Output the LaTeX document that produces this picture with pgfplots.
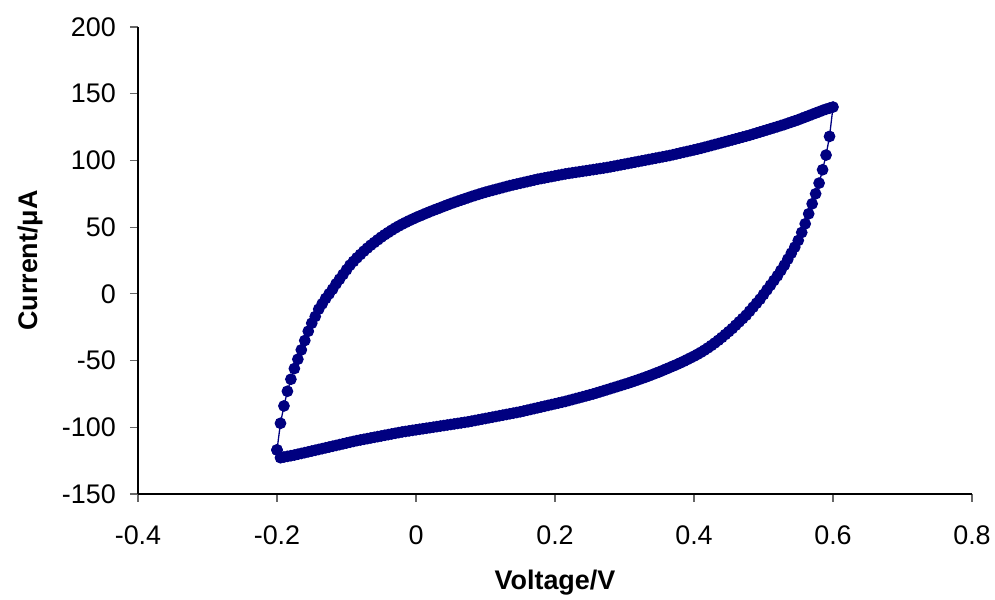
\documentclass[border=0pt]{standalone}
\usepackage{pgfplots}
\pgfplotsset{compat=1.18}
\usepackage{fontspec}
\setmainfont{Liberation Sans}
\definecolor{navy}{RGB}{0,0,128}
\begin{document}
\begin{tikzpicture}[x=1bp,y=1bp]
\begin{axis}[
  at={(0,0)}, anchor=south west,
  scale only axis, width=834bp, height=467bp,
  xmin=-0.4, xmax=0.8, ymin=-150, ymax=200,
  xtick={-0.4,-0.2,0,0.2,0.4,0.6,0.8},
  ytick={-150,-100,-50,0,50,100,150,200},
  xticklabels={-0.4,-0.2,0,0.2,0.4,0.6,0.8},
  yticklabels={-150,-100,-50,0,50,100,150,200},
  axis lines*=left,
  axis line style={black, line width=1.2bp},
  tick align=outside, tick style={black!60, line width=1.2bp},
  major tick length=8bp,
  tick label style={font=\fontsize{27}{32}\selectfont},
  yticklabel style={anchor=east, inner sep=0pt, xshift=-14bp},
  xticklabel style={anchor=north, inner sep=0pt, yshift=-24bp},
  xlabel={\textbf{Voltage/V}}, ylabel={\textbf{Current/μA}},
  label style={font=\fontsize{27}{32}\selectfont},
  xlabel style={at={(axis description cs:0.5,0)}, anchor=base, yshift=-96bp},
  ylabel style={at={(axis description cs:-0.1295,0.5)}, anchor=center},
  clip=false,
]
\addplot[navy, line width=1.3bp, mark=*, mark size=5.2bp, mark options={fill=navy, draw=navy}] coordinates {
(-0.200,-117) (-0.195,-97) (-0.190,-84) (-0.185,-73) (-0.180,-64) (-0.175,-56) (-0.170,-49) (-0.165,-42) (-0.160,-35) (-0.155,-28)
(-0.150,-22) (-0.145,-17) (-0.140,-11.5) (-0.135,-7.5) (-0.130,-3.5) (-0.125,0) (-0.120,3.5) (-0.115,7.5) (-0.110,11) (-0.105,14.5)
(-0.100,18) (-0.095,21.5) (-0.090,24.3) (-0.085,27) (-0.080,29.5) (-0.075,32) (-0.070,34.3) (-0.065,36.5) (-0.060,38.5) (-0.055,40.5)
(-0.050,42.5) (-0.045,44.3) (-0.040,46) (-0.035,47.7) (-0.030,49.3) (-0.025,50.8) (-0.020,52.2) (-0.015,53.5) (-0.010,54.8) (-0.005,56)
(0.000,57.2) (0.005,58.3) (0.010,59.4) (0.015,60.5) (0.020,61.6) (0.025,62.6) (0.030,63.6) (0.035,64.6) (0.040,65.6) (0.045,66.6)
(0.050,67.6) (0.055,68.5) (0.060,69.4) (0.065,70.3) (0.070,71.2) (0.075,72.1) (0.080,73) (0.085,73.8) (0.090,74.6) (0.095,75.4)
(0.100,76.2) (0.105,76.9) (0.110,77.6) (0.115,78.3) (0.120,79) (0.125,79.7) (0.130,80.4) (0.135,81.1) (0.140,81.7) (0.145,82.3)
(0.150,82.9) (0.155,83.5) (0.160,84.1) (0.165,84.7) (0.170,85.3) (0.175,85.9) (0.180,86.4) (0.185,86.9) (0.190,87.4) (0.195,87.9)
(0.200,88.4) (0.205,88.9) (0.210,89.4) (0.215,89.9) (0.220,90.3) (0.225,90.7) (0.230,91.1) (0.235,91.5) (0.240,91.9) (0.245,92.3)
(0.250,92.7) (0.255,93.1) (0.260,93.5) (0.265,93.9) (0.270,94.3) (0.275,94.7) (0.280,95.2) (0.285,95.7) (0.290,96.2) (0.295,96.7)
(0.300,97.2) (0.305,97.7) (0.310,98.2) (0.315,98.7) (0.320,99.2) (0.325,99.7) (0.330,100.2) (0.335,100.7) (0.340,101.2) (0.345,101.7)
(0.350,102.2) (0.355,102.7) (0.360,103.2) (0.365,103.7) (0.370,104.3) (0.375,104.9) (0.380,105.5) (0.385,106.1) (0.390,106.7) (0.395,107.3)
(0.400,107.9) (0.405,108.5) (0.410,109.1) (0.415,109.8) (0.420,110.5) (0.425,111.2) (0.430,111.9) (0.435,112.6) (0.440,113.3) (0.445,114)
(0.450,114.7) (0.455,115.4) (0.460,116.1) (0.465,116.8) (0.470,117.5) (0.475,118.2) (0.480,118.9) (0.485,119.7) (0.490,120.5) (0.495,121.3)
(0.500,122.1) (0.505,122.9) (0.510,123.7) (0.515,124.5) (0.520,125.3) (0.525,126.1) (0.530,126.9) (0.535,127.8) (0.540,128.7) (0.545,129.6)
(0.550,130.5) (0.555,131.5) (0.560,132.5) (0.565,133.5) (0.570,134.5) (0.575,135.5) (0.580,136.5) (0.585,137.5) (0.590,138.4) (0.595,139.2)
(0.600,140)
(0.595,118) (0.590,104) (0.585,93) (0.580,83) (0.575,75) (0.570,67.5) (0.565,60) (0.560,52.5) (0.555,46) (0.550,40)
(0.545,35) (0.540,30.5) (0.535,26) (0.530,21.5) (0.525,17.5) (0.520,13.5) (0.515,10) (0.510,6.5) (0.505,3) (0.500,-0.5)
(0.495,-4) (0.490,-7) (0.485,-10) (0.480,-13) (0.475,-16) (0.470,-18.5) (0.465,-21) (0.460,-23.5) (0.455,-26) (0.450,-28.3)
(0.445,-30.5) (0.440,-32.7) (0.435,-34.8) (0.430,-36.8) (0.425,-38.7) (0.420,-40.5) (0.415,-42.2) (0.410,-43.8) (0.405,-45.3) (0.400,-46.7)
(0.395,-48) (0.390,-49.3) (0.385,-50.6) (0.380,-51.8) (0.375,-53) (0.370,-54.1) (0.365,-55.2) (0.360,-56.3) (0.355,-57.4) (0.350,-58.5)
(0.345,-59.5) (0.340,-60.5) (0.335,-61.5) (0.330,-62.5) (0.325,-63.4) (0.320,-64.3) (0.315,-65.2) (0.310,-66.1) (0.305,-67) (0.300,-67.8)
(0.295,-68.6) (0.290,-69.4) (0.285,-70.2) (0.280,-71) (0.275,-71.8) (0.270,-72.6) (0.265,-73.4) (0.260,-74.2) (0.255,-75) (0.250,-75.7)
(0.245,-76.4) (0.240,-77.1) (0.235,-77.8) (0.230,-78.5) (0.225,-79.2) (0.220,-79.9) (0.215,-80.6) (0.210,-81.2) (0.205,-81.8) (0.200,-82.4)
(0.195,-83) (0.190,-83.6) (0.185,-84.2) (0.180,-84.8) (0.175,-85.4) (0.170,-86) (0.165,-86.6) (0.160,-87.2) (0.155,-87.8) (0.150,-88.4)
(0.145,-88.9) (0.140,-89.4) (0.135,-89.9) (0.130,-90.4) (0.125,-90.9) (0.120,-91.4) (0.115,-91.9) (0.110,-92.4) (0.105,-92.9) (0.100,-93.4)
(0.095,-93.9) (0.090,-94.4) (0.085,-94.9) (0.080,-95.4) (0.075,-95.9) (0.070,-96.3) (0.065,-96.7) (0.060,-97.1) (0.055,-97.5) (0.050,-97.9)
(0.045,-98.3) (0.040,-98.7) (0.035,-99.1) (0.030,-99.5) (0.025,-99.9) (0.020,-100.3) (0.015,-100.7) (0.010,-101.1) (0.005,-101.5) (0.000,-101.9)
(-0.005,-102.3) (-0.010,-102.7) (-0.015,-103.1) (-0.020,-103.5) (-0.025,-104) (-0.030,-104.5) (-0.035,-105) (-0.040,-105.5) (-0.045,-106) (-0.050,-106.5)
(-0.055,-107) (-0.060,-107.5) (-0.065,-108) (-0.070,-108.5) (-0.075,-109) (-0.080,-109.5) (-0.085,-110) (-0.090,-110.6) (-0.095,-111.2) (-0.100,-111.8)
(-0.105,-112.4) (-0.110,-113) (-0.115,-113.6) (-0.120,-114.2) (-0.125,-114.8) (-0.130,-115.4) (-0.135,-116) (-0.140,-116.6) (-0.145,-117.2) (-0.150,-117.8)
(-0.155,-118.4) (-0.160,-119) (-0.165,-119.6) (-0.170,-120.2) (-0.175,-120.8) (-0.180,-121.3) (-0.185,-121.8) (-0.190,-122.3) (-0.195,-122.8)
(-0.200,-117)
};
\end{axis}
\pgfresetboundingbox
\path[use as bounding box] (-138,-106) rectangle (857,494);
\end{tikzpicture}
\end{document}
